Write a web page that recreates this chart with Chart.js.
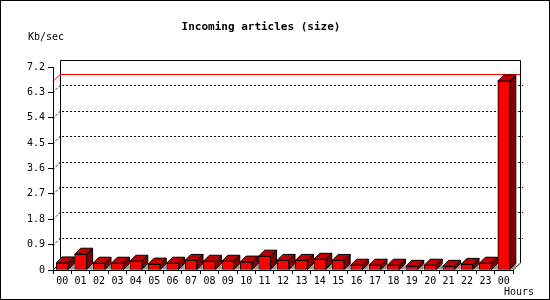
<!DOCTYPE html>
<html lang="en">
<head>
    <meta charset="UTF-8">
    <title>Incoming articles (size)</title>
    <script src="https://cdn.jsdelivr.net/npm/chart.js"></script>
    <style>
        body { margin: 0; background: #fff; }
        canvas { display: block; }
    </style>
</head>
<body>
    <canvas id="chart" width="550" height="300"></canvas>

    <script>
        // Data
        const hours = ['00', '01', '02', '03', '04', '05', '06', '07', '08', '09', '10', '11',
                       '12', '13', '14', '15', '16', '17', '18', '19', '20', '21', '22', '23', '00'];
        const kbPerSec = [0.25, 0.56, 0.24, 0.24, 0.31, 0.21, 0.24, 0.34, 0.31, 0.31, 0.28, 0.49,
                          0.34, 0.34, 0.38, 0.34, 0.17, 0.17, 0.17, 0.13, 0.17, 0.13, 0.20, 0.24, 6.70];
        const yTickLabels = ['0', '0.9', '1.8', '2.7', '3.6', '4.5', '5.4', '6.3', '7.2'];
        const yMax = 7.2;
        const yStep = 0.9;

        const titleText = 'Incoming articles (size)';
        const yUnit = 'Kb/sec';
        const xUnit = 'Hours';

        const FONT = '"DejaVu Sans Mono", monospace';
        const WALL = 7;   // depth of the back wall
        const DEPTH = 6;  // depth of each bar

        Chart.defaults.color = '#000';
        Chart.defaults.font.family = FONT;
        Chart.defaults.font.size = 10;

        function poly(ctx, pts, fill, stroke) {
            ctx.beginPath();
            ctx.moveTo(pts[0][0], pts[0][1]);
            for (let i = 1; i < pts.length; i++) ctx.lineTo(pts[i][0], pts[i][1]);
            ctx.closePath();
            if (fill) { ctx.fillStyle = fill; ctx.fill(); }
            if (stroke) { ctx.strokeStyle = stroke; ctx.lineWidth = 1; ctx.stroke(); }
        }

        // back wall, dotted grid and max line, drawn behind the bars
        const wallPlugin = {
            id: 'wall',
            beforeDatasetsDraw(chart) {
                const ctx = chart.ctx;
                const x = chart.scales.x, y = chart.scales.y;
                const l = x.left, r = x.right;
                const top = y.getPixelForValue(yMax), bot = y.getPixelForValue(0);
                ctx.save();
                ctx.strokeStyle = '#000';
                ctx.lineWidth = 1;
                // back wall outline
                ctx.beginPath();
                ctx.moveTo(l + WALL + 0.5, bot - WALL);
                ctx.lineTo(l + WALL + 0.5, top - WALL + 0.5);
                ctx.lineTo(r + WALL + 0.5, top - WALL + 0.5);
                ctx.lineTo(r + WALL + 0.5, bot - WALL);
                ctx.lineTo(r, bot);
                ctx.moveTo(l + WALL + 0.5, bot - WALL);
                ctx.lineTo(l, bot);
                ctx.stroke();

                // dotted grid lines
                ctx.setLineDash([2, 2]);
                for (let i = 1; i < yTickLabels.length - 1; i++) {
                    const py = Math.round(y.getPixelForValue(i * yStep)) + 0.5;
                    ctx.beginPath();
                    ctx.moveTo(l, py);
                    ctx.lineTo(l + WALL, py - WALL);
                    ctx.lineTo(r + WALL + 3, py - WALL);
                    ctx.stroke();
                }
                ctx.setLineDash([]);

                // red line at the maximum
                const my = Math.round(y.getPixelForValue(Math.max(...kbPerSec))) + 0.5;
                ctx.strokeStyle = '#ff0000';
                ctx.beginPath();
                ctx.moveTo(l, my);
                ctx.lineTo(l + WALL, my - WALL);
                ctx.lineTo(r + WALL, my - WALL);
                ctx.stroke();
                ctx.restore();
            }
        };

        // top and side faces of the bars
        const barPlugin = {
            id: 'bar3d',
            afterDatasetsDraw(chart) {
                const ctx = chart.ctx;
                const meta = chart.getDatasetMeta(0);
                ctx.save();
                meta.data.forEach(bar => {
                    const p = bar.getProps(['x', 'y', 'base', 'width'], true);
                    const left = p.x - p.width / 2, right = p.x + p.width / 2;
                    const top = p.y, bottom = p.base;
                    poly(ctx, [[right, bottom], [right + DEPTH, bottom - DEPTH], [right + DEPTH, bottom]], '#999999', null);
                    poly(ctx, [[right, top], [right + DEPTH, top - DEPTH], [right + DEPTH, bottom - DEPTH], [right, bottom]], '#800000', '#000');
                    poly(ctx, [[left, top], [left + DEPTH, top - DEPTH], [right + DEPTH, top - DEPTH], [right, top]], '#c00000', '#000');
                });
                ctx.restore();
            }
        };

        // titles, units and the outer frame
        const textPlugin = {
            id: 'texts',
            afterDraw(chart) {
                const ctx = chart.ctx;
                ctx.save();
                ctx.fillStyle = '#000';
                ctx.textBaseline = 'middle';
                ctx.font = 'bold 11px ' + FONT;
                ctx.textAlign = 'center';
                ctx.fillText(titleText, 261, 27);
                ctx.font = '10px ' + FONT;
                ctx.textAlign = 'left';
                ctx.fillText(yUnit, 28, 37);
                ctx.fillText(xUnit, 504, 292);
                ctx.strokeStyle = '#000';
                ctx.lineWidth = 1;
                ctx.strokeRect(0.5, 0.5, 549, 299);
                ctx.restore();
            }
        };

        new Chart(document.getElementById('chart'), {
            type: 'bar',
            data: {
                labels: hours,
                datasets: [{
                    data: kbPerSec,
                    backgroundColor: '#ff0000',
                    borderColor: '#000',
                    borderWidth: 1,
                    borderSkipped: false,
                    barThickness: 12
                }]
            },
            options: {
                responsive: false,
                animation: false,
                events: [],
                layout: { padding: { top: 67, right: 37, left: 0, bottom: 0 } },
                plugins: {
                    legend: { display: false },
                    tooltip: { enabled: false },
                    title: { display: false }
                },
                scales: {
                    x: {
                        grid: { drawOnChartArea: false, drawTicks: true, tickLength: 4, color: '#000', offset: true },
                        border: { display: true, color: '#000' },
                        ticks: { autoSkip: false, maxRotation: 0, padding: 1 },
                        afterFit(scale) { scale.height = 30; }
                    },
                    y: {
                        min: 0,
                        max: yMax,
                        grid: { drawOnChartArea: false, drawTicks: true, tickLength: 5, color: '#000' },
                        border: { display: true, color: '#000' },
                        ticks: {
                            stepSize: yStep,
                            padding: 3,
                            callback: (value, index) => yTickLabels[index]
                        },
                        afterFit(scale) { scale.width = 53; }
                    }
                }
            },
            plugins: [wallPlugin, barPlugin, textPlugin]
        });
    </script>
</body>
</html>
